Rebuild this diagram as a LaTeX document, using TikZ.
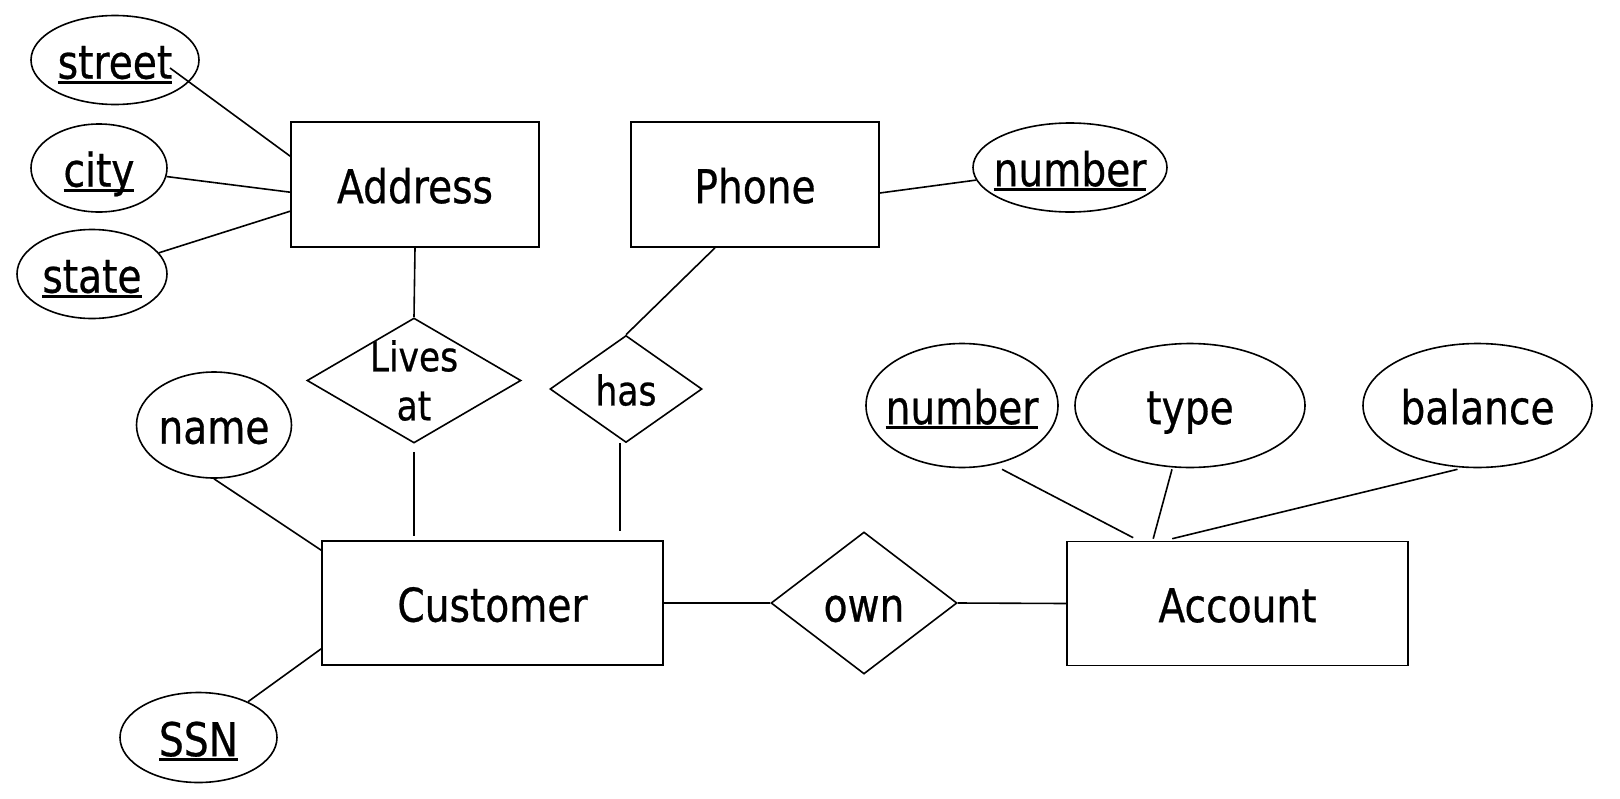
\documentclass[tikz,border=0pt]{standalone}
\usepackage{fontspec}
\setmainfont{DejaVu Sans}[FakeStretch=0.84,FakeBold=0.6]
\usetikzlibrary{shapes.geometric,calc}
\newcommand{\erul}[1]{\setbox0\hbox{#1}\rlap{\smash{\rule[-0.11em]{\wd0}{0.07em}}}\box0}
\newcommand{\zw}[1]{\makebox[0pt]{#1}}
\begin{document}
\begin{tikzpicture}[x=1pt,y=-1pt,
  lbl/.style={font=\fontsize{46.6}{56}\selectfont, text height=37.3pt, text depth=0pt},
  slbl/.style={font=\fontsize{41}{49}\selectfont, text height=32.8pt, text depth=0pt},
  entity/.style={draw, rectangle, line width=1.6pt, inner sep=0pt, lbl},
  attr/.style={draw, ellipse, line width=1.6pt, inner sep=0pt, lbl},
  rel/.style={draw, diamond, line width=1.6pt, inner sep=0pt},
  link/.style={line width=1.6pt},
]
\useasboundingbox (0,0) rectangle (1620,798);
\fill[white] (0,0) rectangle (1620,798);

% entities
\node[entity, minimum width=248pt, minimum height=125pt] (address) at (415,184.5) {Address};
\node[entity, minimum width=248pt, minimum height=125pt] (phone) at (755,184.5) {Phone};
\node[entity, minimum width=341pt, minimum height=124pt] (customer) at (492.5,603) {Customer};
\node[entity, minimum width=341pt, minimum height=124pt] (account) at (1237.5,603.5) {Account};

% attributes
\node[attr, minimum width=168pt, minimum height=89pt] (street) at (115,60) {\zw{\erul{street}}};
\node[attr, minimum width=136pt, minimum height=88pt] (city) at (99,168) {\zw{\erul{city}}};
\node[attr, minimum width=150pt, minimum height=89pt] (state) at (92,274) {\zw{\erul{state}}};
\node[attr, minimum width=194pt, minimum height=89pt] (pnum) at (1070,167.5) {\zw{\erul{number}}};
\node[attr, minimum width=155pt, minimum height=106pt] (name) at (214,425) {\zw{name}};
\node[attr, minimum width=157pt, minimum height=90pt] (ssn) at (198.5,737.5) {\zw{\erul{SSN}}};
\node[attr, minimum width=192pt, minimum height=124pt] (anum) at (962,405.5) {\zw{\erul{number}}};
\node[attr, minimum width=230pt, minimum height=124pt] (type) at (1190,405.5) {\zw{type}};
\node[attr, minimum width=229pt, minimum height=124pt] (balance) at (1477.5,405.5) {\zw{balance}};

% relationships
\node[rel, minimum width=214pt, minimum height=125pt,
  label={[font=\fontsize{41}{49}\selectfont, align=center, inner sep=0pt]center:Lives\\at}] (lives) at (414,380.5) {};
\node[rel, minimum width=152pt, minimum height=107pt, slbl] (has) at (626,389) {\zw{has}};
\node[rel, minimum width=186pt, minimum height=142pt, lbl] (own) at (864,603) {\zw{own}};

% connectors
\draw[link] ($(street.center)+(55,8)$) -- ($(address.north west)+(0,35)$);
\draw[link] (city) -- ($(address.north west)+(0,71)$);
\draw[link] (state) -- ($(address.north west)+(0,90)$);
\draw[link] ($(phone.east)+(0,8.5)$) -- (pnum);
\draw[link] ($(phone.south)+(-40,0)$) -- (has.north);
\draw[link] (address.south) -- (lives.north);
\draw[link, shorten <=8pt, shorten >=4pt] (lives.south) -- (lives.south |- customer.north);
\draw[link] ($(has.south)+(-6,0)$) -- ($(has.south |- customer.north)+(-6,-9)$);
\draw[link] (name.south) -- ($(customer.north west)+(0,10)$);
\draw[link] (ssn) -- ($(customer.south west)+(0,-17)$);
\draw[link] (customer.east) -- (own.west);
\draw[link] (own.east) -- (account.west);
\draw[link] ($(anum.south)+(40,1)$) -- ($(account.north west)+(67,-3)$);
\draw[link] ($(type.south)+(-18,1)$) -- ($(account.north west)+(87,-2)$);
\draw[link] ($(balance.south)+(-20,1)$) -- ($(account.north west)+(106,-2)$);
\end{tikzpicture}
\end{document}
